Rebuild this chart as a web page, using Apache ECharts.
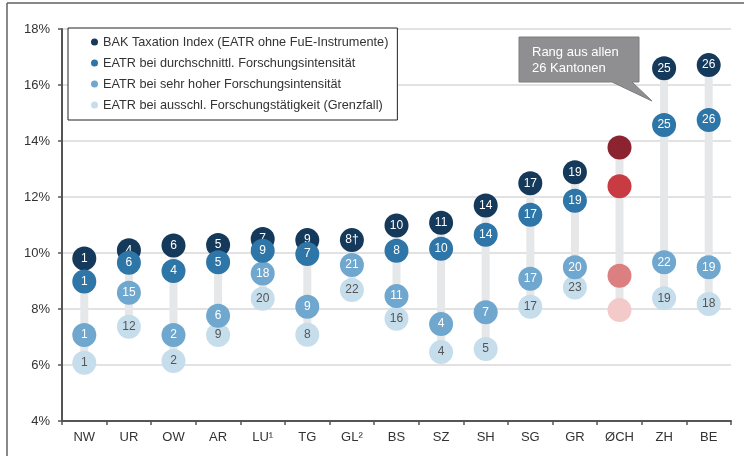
<!DOCTYPE html>
<html>
<head>
<meta charset="utf-8">
<script src="https://cdn.jsdelivr.net/npm/echarts@6/dist/echarts.min.js"></script>
<style>html,body{margin:0;padding:0;background:#fff}#c{width:744px;height:456px}</style>
</head>
<body>
<div id="c"></div>
<script>
const categories = ['NW','UR','OW','AR','LU\u00b9','TG','GL\u00b2','BS','SZ','SH','SG','GR','\u00d8CH','ZH','BE'];
const yTicks = [4, 6, 8, 10, 12, 14, 16, 18];
const seriesNames = [
  'BAK Taxation Index (EATR ohne FuE-Instrumente)',
  'EATR bei durchschnittl. Forschungsintensit\u00e4t',
  'EATR bei sehr hoher Forschungsintensit\u00e4t',
  'EATR bei ausschl. Forschungst\u00e4tigkeit (Grenzfall)'
];
const baseValues = [9.8, 10.1, 10.27, 10.29, 10.5, 10.46, 10.46, 10.98, 11.08, 11.7, 12.49, 12.88, 13.77, 16.6, 16.71];
const avgValues  = [8.98, 9.65, 9.36, 9.67, 10.08, 9.96, null, 10.08, 10.15, 10.65, 11.37, 11.87, 12.38, 14.57, 14.75];
const highValues = [7.07, 8.58, 7.07, 7.76, 9.27, 8.08, 9.57, 8.46, 7.46, 7.88, 9.08, 9.49, 9.19, 9.67, 9.49];
const exclValues = [6.08, 7.37, 6.14, 7.07, 8.37, 7.08, 8.68, 7.65, 6.46, 6.57, 8.08, 8.77, 7.96, 8.38, 8.18];
const baseRanks = ['1','4','6','5','7','9','8\u2020','10','11','14','17','19','','25','26'];
const avgRanks  = ['1','6','4','5','9','7','','8','10','14','17','19','','25','26'];
const highRanks = ['1','15','2','6','18','9','21','11','4','7','17','20','','22','19'];
const exclRanks = ['1','12','2','9','20','8','22','16','4','5','17','23','','19','18'];
const blueColors = ['#14395a', '#2e75a8', '#6fa7cf', '#c6ddec'];
const redColors  = ['#8b2330', '#c83b42', '#db7f80', '#f3c9c9'];
const highlightIndex = 12;

const allVals = [baseValues, avgValues, highValues, exclValues];
const rangeData = categories.map((c, i) => {
  const v = allVals.map(a => a[i]).filter(x => x != null);
  return [i, Math.min(...v), Math.max(...v)];
});

const FONT = "'Liberation Sans', Arial, sans-serif";
const NARROW = "'Liberation Sans Narrow', 'Liberation Sans', Arial, sans-serif";

function makeScatter(k, values, ranks, textColor, z) {
  return {
    name: seriesNames[k],
    type: 'scatter',
    symbol: 'circle',
    symbolSize: 24,
    z: z,
    itemStyle: { color: blueColors[k], opacity: 1 },
    label: {
      show: true, position: 'inside', color: textColor,
      fontFamily: FONT, fontSize: 12,
      formatter: p => ranks[p.dataIndex]
    },
    emphasis: { disabled: true },
    data: values.map((v, i) => {
      if (v == null) return [i, null];
      const item = { value: [i, v] };
      if (i === highlightIndex) item.itemStyle = { color: redColors[k] };
      return item;
    })
  };
}

const chart = echarts.init(document.getElementById('c'), null, { renderer: 'canvas' });
chart.setOption({
  animation: false,
  backgroundColor: '#fff',
  grid: { left: 62, right: 13, top: 29, bottom: 35 },
  legend: {
    left: 68, top: 28,
    orient: 'vertical',
    data: seriesNames,
    icon: 'circle',
    itemWidth: 7, itemHeight: 7,
    itemGap: 7,
    padding: [7, 9, 8, 23],
    backgroundColor: '#fff',
    borderColor: '#222', borderWidth: 1,
    textStyle: { fontFamily: FONT, fontSize: 12.7, color: '#333', lineHeight: 14 },
    selectedMode: false,
    z: 20
  },
  xAxis: {
    type: 'category',
    data: categories,
    axisLine: { lineStyle: { color: '#555', width: 2 } },
    axisTick: { show: true, length: 4, lineStyle: { color: '#555', width: 1.5 } },
    axisLabel: { fontFamily: NARROW, fontSize: 13, color: '#333', margin: 10 },
    splitLine: { show: false }
  },
  yAxis: {
    type: 'value',
    min: 4, max: 18, interval: 2,
    axisLine: { show: true, lineStyle: { color: '#555', width: 2 } },
    axisTick: { show: true, length: 4, lineStyle: { color: '#555', width: 1.5 } },
    axisLabel: { fontFamily: FONT, fontSize: 13, color: '#333', margin: 12, formatter: '{value}%' },
    splitLine: { lineStyle: { color: '#e2e2e2', width: 2 } }
  },
  series: [
    {
      type: 'custom',
      z: 1,
      data: rangeData,
      renderItem: function (params, api) {
        const top = api.coord([api.value(0), api.value(2)]);
        const bot = api.coord([api.value(0), api.value(1)]);
        return {
          type: 'rect',
          shape: { x: top[0] - 4, y: top[1], width: 8, height: bot[1] - top[1] },
          style: { fill: '#e6e7e9' }
        };
      },
      silent: true
    },
    makeScatter(0, baseValues, baseRanks, '#fff', 2),
    makeScatter(3, exclValues, exclRanks, '#555', 3),
    makeScatter(2, highValues, highRanks, '#fff', 4),
    makeScatter(1, avgValues, avgRanks, '#fff', 5)
  ],
  graphic: [
    { type: 'line', shape: { x1: 7, y1: 3, x2: 7, y2: 456 }, style: { stroke: '#606060', lineWidth: 1.5 }, z: 30 },
    { type: 'line', shape: { x1: 7, y1: 3, x2: 744, y2: 3 }, style: { stroke: '#606060', lineWidth: 1.5 }, z: 30 },
    {
      type: 'polygon', z: 30,
      shape: { points: [[519, 37], [639, 37], [639, 82], [632, 82], [652, 101], [612, 82], [519, 82]] },
      style: { fill: '#8f8f91', stroke: '#7d7d7f', lineWidth: 1 }
    },
    {
      type: 'text', z: 31, left: 532, top: 44,
      style: { text: 'Rang aus allen\n26 Kantonen', fill: '#fff', font: "13px 'Liberation Sans', Arial, sans-serif", lineHeight: 16 }
    }
  ]
});
</script>
</body>
</html>
